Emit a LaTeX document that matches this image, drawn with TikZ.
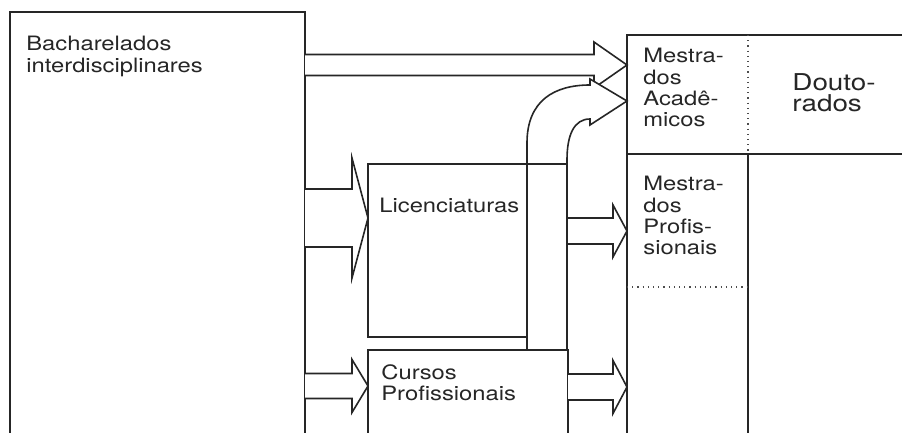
\documentclass[tikz,border=0pt]{standalone}
\usepackage{fontspec}
\setmainfont{TeX Gyre Heros}[FakeStretch=1.2]
\usetikzlibrary{calc}

% block arrow: start, tip, half shaft, half head, head length
\newcommand{\blockarrow}[5]{%
  \draw[arr] ($(#1)+(0,-#3)$) -- ($(#2)+(-#5,-#3)$) -- ($(#2)+(-#5,-#4)$) -- (#2)
    -- ($(#2)+(-#5,#4)$) -- ($(#2)+(-#5,#3)$) -- ($(#1)+(0,#3)$);}

\begin{document}
\begin{tikzpicture}[
    x=0.5pt, y=-0.5pt,
    line join=miter,
    box/.style={draw=black!85, line width=0.8pt, inner sep=0pt, outer sep=0pt, anchor=north west},
    area/.style={inner sep=0pt, outer sep=0pt, anchor=north west},
    arr/.style={draw=black!85, line width=0.8pt, fill=white},
    sep/.style={black!70, line width=0.6pt, dotted},
    lbl/.style={inner sep=0pt, align=left, anchor=north west, text=black!85,
      font=\fontsize{9.9}{10.6}\selectfont},
    big/.style={inner sep=0pt, align=left, anchor=north west, text=black!85,
      font=\fontsize{11.6}{10.6}\selectfont}
  ]
  \clip (0,0) rectangle (902,433);

% --- boxes ---
  \node[box, minimum width=147.5pt, minimum height=229pt] (bach) at (10,12) {};
  \node[area, minimum width=60.5pt, minimum height=59.5pt] (acad) at (627,35) {};
  \node[area, minimum width=85pt, minimum height=59.5pt] (dout) at (748,35) {};
  \draw[box] (acad.north west) rectangle (dout.south east);
  \draw[sep] (dout.north west) -- (dout.south west);
  \node[box, minimum width=60.5pt, minimum height=158pt] (mprof) at (627,154) {};
  \draw[sep] (mprof.west |- 0,287) -- (mprof.east |- 0,287);
  \node[area, minimum width=79.5pt, minimum height=86.5pt] (lic) at (368,164) {};
  \node[box, minimum width=100pt, minimum height=60pt] (curs) at (368,350) {};

% --- arrow ends ---
  \coordinate (s1) at (bach.east |- 0,65);
  \coordinate (t1) at (acad.west |- 0,65);
  \coordinate (s2) at (bach.east |- 0,218);
  \coordinate (t2) at (lic.west |- 0,218);
  \coordinate (s3) at (bach.east |- 0,386);
  \coordinate (t3) at (curs.west |- 0,386);
  \coordinate (s4) at (curs.east |- 0,231);
  \coordinate (t4) at (mprof.west |- 0,231);
  \coordinate (s5) at (curs.east |- 0,387);
  \coordinate (t5) at (mprof.west |- 0,387);
  \coordinate (t6) at (acad.west |- 0,101);
  \coordinate (colr) at (567,350);

% --- arrows ---
  \blockarrow{s1}{t1}{10.5}{23}{33}
  % licenciaturas column bending up into the academic masters
  \draw[arr] (lic.east |- curs.north) -- (lic.east |- 0,143)
    .. controls (527,100) and (555,85) .. ($(t6)+(-37,-16)$)
    -- ($(t6)+(-37,-22)$) -- (t6) -- ($(t6)+(-37,24)$) -- ($(t6)+(-37,18)$)
    .. controls (574,119) and (567,135) .. (567,160) -- (colr) -- cycle;
  \draw[box] (lic.north west) rectangle (lic.south east);
  \draw[box] (lic.north east) -- (curs.east |- lic.north);
  \blockarrow{s2}{t2}{29}{60}{16}
  \blockarrow{s3}{t3}{12.5}{26.5}{16}
  \blockarrow{s4}{t4}{13}{26}{14}
  \blockarrow{s5}{t5}{13}{26.5}{14}

% --- labels ---
  \node[lbl] (bachtxt) at ([shift={(16,24)}]bach.north west) {Bacharelados\\interdisciplinares};
  \node[lbl] (lictxt) at ([shift={(11,34)}]lic.north west) {Licenciaturas};
  \node[lbl] (curstxt) at ([shift={(13,14)}]curs.north west) {Cursos\\Profissionais};
  \node[lbl] (acadtxt) at ([shift={(16,13)}]acad.north west) {Mestra-\\dos\\Acadê-\\micos};
  \node[big] (douttxt) at ([shift={(44,38)}]dout.north west) {Douto-\\rados};
  \node[lbl] (mproftxt) at ([shift={(16,22)}]mprof.north west) {Mestra-\\dos\\Profis-\\sionais};
\end{tikzpicture}
\end{document}
